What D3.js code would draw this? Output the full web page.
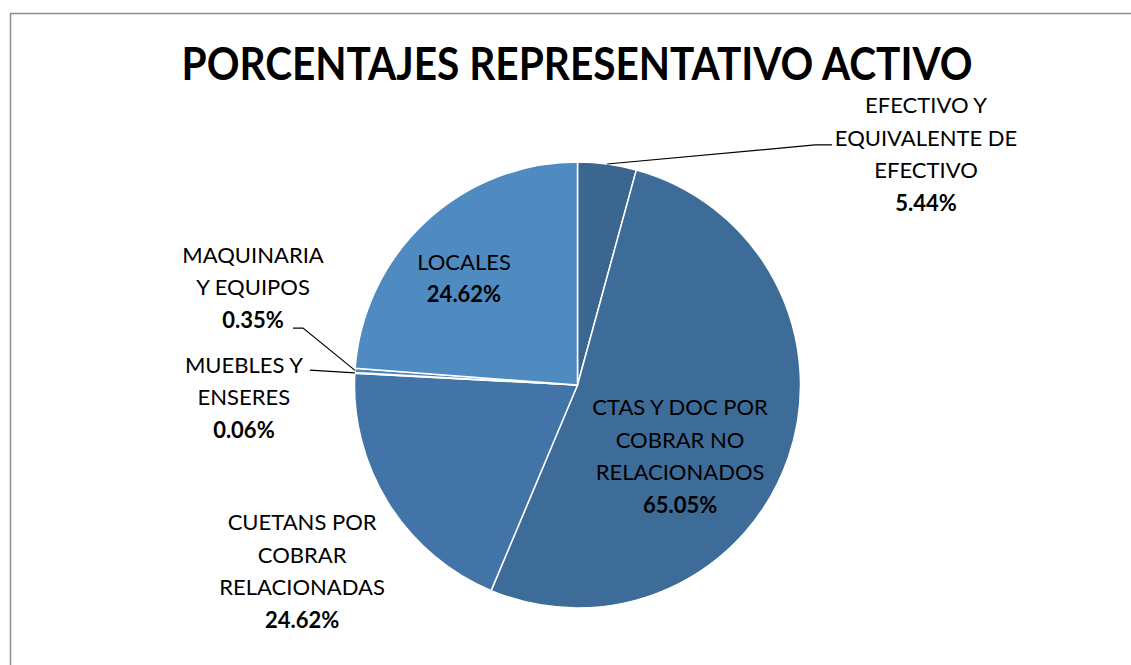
<!DOCTYPE html>
<html>
<head>
<meta charset="utf-8">
<script src="https://cdn.jsdelivr.net/npm/d3@7"></script>
<style>
  html, body { margin: 0; padding: 0; background: #fff; }
  svg { display: block; }
  text { font-family: Lato, "Open Sans", sans-serif; fill: #000; }
</style>
</head>
<body>
<svg id="chart"></svg>
<script>
// data
var categories = ["EFECTIVO Y EQUIVALENTE DE EFECTIVO", "CTAS Y DOC POR COBRAR NO RELACIONADOS",
  "CUETANS POR COBRAR RELACIONADAS", "MUEBLES Y ENSERES", "MAQUINARIA Y EQUIPOS", "LOCALES"];
var labelLines = [
  ["EFECTIVO Y", "EQUIVALENTE DE", "EFECTIVO"],
  ["CTAS Y DOC POR", "COBRAR NO", "RELACIONADOS"],
  ["CUETANS POR", "COBRAR", "RELACIONADAS"],
  ["MUEBLES Y", "ENSERES"],
  ["MAQUINARIA", "Y EQUIPOS"],
  ["LOCALES"]
];
// slice sizes (share of the pie)
var values = [4.25, 52.08, 19.5, 0.06, 0.31, 23.8];
// percentages as printed on the chart
var pctLabels = ["5.44%", "65.05%", "24.62%", "0.06%", "0.35%", "24.62%"];
var colors = ["#3a6690", "#3e6c98", "#4274a7", "#4a80b7", "#4c84bb", "#4f8ac1"];

const width = 1131;
const height = 665;
const cx = 577.5, cy = 385, r = 223;
const lineH = 32.5;

// label block centres (radius units from pie centre) and leader elbows (px from block centre)
var labelPos = [[1.563, -1.036], [0.46, 0.318], [-1.235, 0.834], [-1.496, 0.054], [-1.455, -0.439], [-0.509, -0.48]];
var leaders = [[[-111, -9], [-94, -9]], null, null, [[66, -27], [66, -27]], [[50, 41], [40, 41]], null];

var svg = d3.select('#chart')
    .attr('width', width)
    .attr('height', height);

// chart frame
svg.append('rect')
    .attr('x', 10.5).attr('y', 13.5)
    .attr('width', width + 20).attr('height', height + 20)
    .attr('fill', 'none')
    .attr('stroke', '#8e8e8e')
    .attr('stroke-width', 1.5);

// title, squeezed to the width of the original
var title = svg.append('text')
    .attr('x', 577).attr('y', 80)
    .attr('text-anchor', 'middle')
    .style('font-size', '45px')
    .style('font-weight', 'bold')
    .text('PORCENTAJES REPRESENTATIVO ACTIVO');
var tw = title.node().getComputedTextLength();
if (tw > 791) title.attr('textLength', 791).attr('lengthAdjust', 'spacingAndGlyphs');

var pie = d3.pie().sort(null).value(d => d);
var arcs = pie(values);
var arc = d3.arc().innerRadius(0).outerRadius(r);

var g = svg.append('g').attr('transform', `translate(${cx}, ${cy})`);

g.selectAll('path')
    .data(arcs)
    .enter().append('path')
    .attr('d', arc)
    .attr('fill', (d, i) => colors[i])
    .attr('stroke', '#fff')
    .attr('stroke-width', 1.5)
    .attr('stroke-linejoin', 'round');

// leader lines
arcs.forEach(function(d, i) {
  if (!leaders[i]) return;
  var a = (d.startAngle + d.endAngle) / 2;
  var sx = Math.sin(a) * r, sy = -Math.cos(a) * r;
  var bx = labelPos[i][0] * r, by = labelPos[i][1] * r;
  var pts = [[sx, sy], [bx + leaders[i][0][0], by + leaders[i][0][1]], [bx + leaders[i][1][0], by + leaders[i][1][1]]];
  g.append('path')
      .attr('d', d3.line()(pts))
      .attr('fill', 'none')
      .attr('stroke', '#000')
      .attr('stroke-width', 1.2);
});

// labels
arcs.forEach(function(d, i) {
  var lines = labelLines[i].concat([pctLabels[i]]);
  var bx = labelPos[i][0] * r, by = labelPos[i][1] * r;
  var y0 = by - (lines.length - 1) * lineH / 2;
  var t = g.append('text')
      .attr('text-anchor', 'middle')
      .style('font-size', '22px');
  lines.forEach(function(s, j) {
    t.append('tspan')
        .attr('x', bx)
        .attr('y', y0 + j * lineH + 8)
        .style('font-weight', j === lines.length - 1 ? 'bold' : 'normal')
        .text(s);
  });
});
</script>
</body>
</html>
